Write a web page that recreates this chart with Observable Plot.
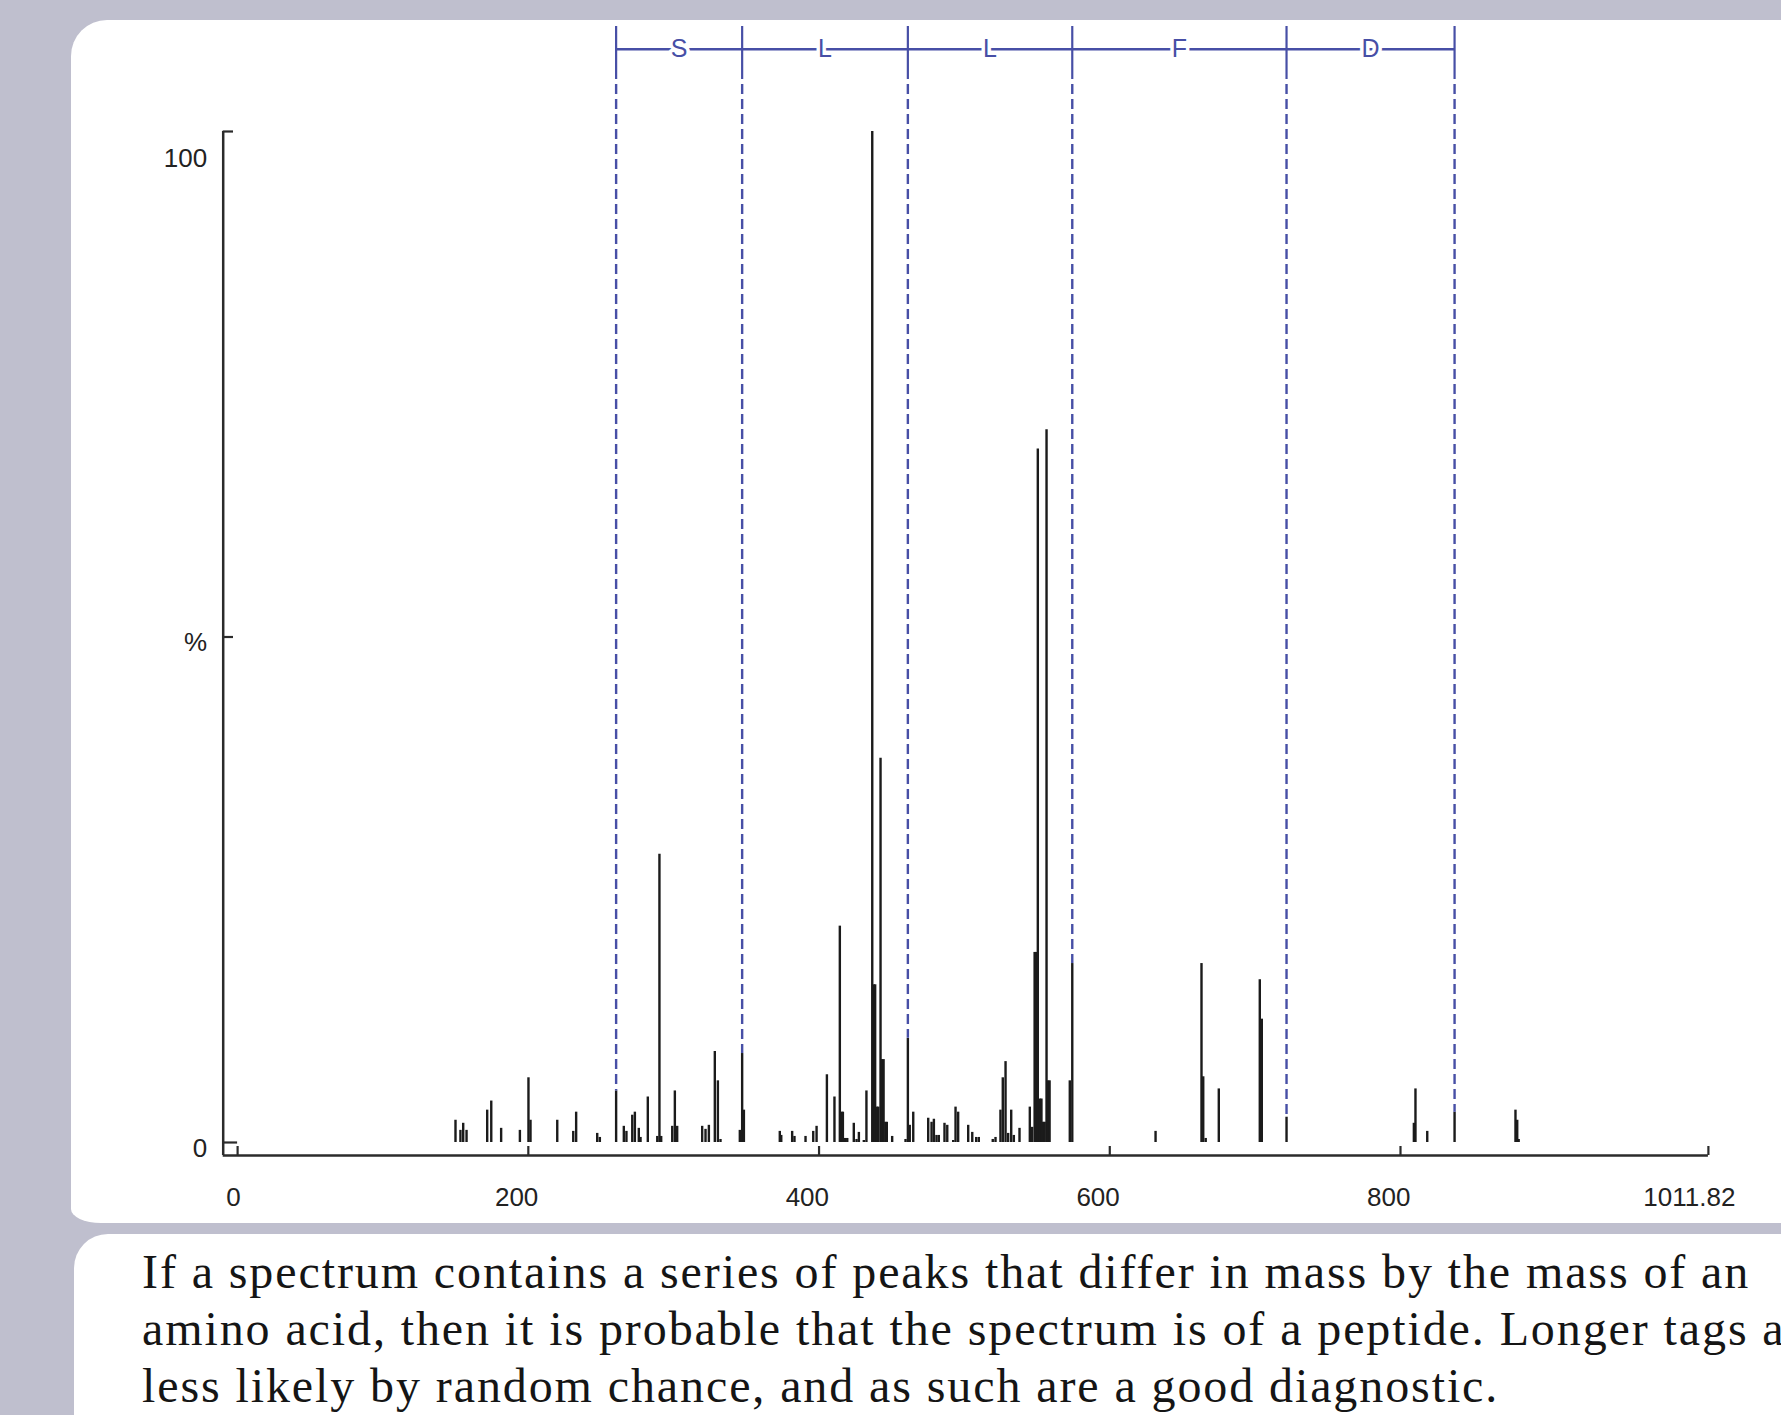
<!DOCTYPE html>
<html>
<head>
<meta charset="utf-8">
<script src="https://cdn.jsdelivr.net/npm/d3@7"></script>
<script src="https://cdn.jsdelivr.net/npm/@observablehq/plot@0.6"></script>
<style>
  html, body { margin: 0; padding: 0; }
  body { width: 1781px; height: 1415px; overflow: hidden; position: relative; background: #bfbfce; }
  #panel1 { position: absolute; left: 71px; top: 20px; width: 1800px; height: 1203px; background: #fff; border-radius: 36px 0 0 30px / 36px 0 0 14px; }
  #panel2 { position: absolute; left: 74px; top: 1234px; width: 1800px; height: 300px; background: #fff; border-radius: 34px 0 0 0; }
  #chart { position: absolute; left: 0; top: 0; }
  #chart svg { background: transparent; max-width: none; overflow: visible; }
  #caption { position: absolute; left: 142px; top: 1243px; font-family: "Liberation Serif", "DejaVu Serif", serif; font-size: 48px; letter-spacing: 1.9px; line-height: 57px; color: #151515; white-space: nowrap; }
</style>
</head>
<body>
<div id="panel1"></div>
<div id="panel2"></div>
<div id="chart"></div>
<div id="caption">If a spectrum contains a series of peaks that differ in mass by the mass of an<br>amino acid, then it is probable that the spectrum is of a peptide. Longer tags are<br>less likely by random chance, and as such are a good diagnostic.</div>
<script>
// ---- data (m/z, relative intensity %) ----
const peakMz = [
  149.9, 153.3, 155.2, 157.5, 171.7, 174.5, 181.3, 194.2, 200.1, 201.5,
  219.9, 230.9, 232.9, 247.4, 249.2, 260.4, 265.7, 267.5, 271.5, 273.3,
  276.0, 277.2, 282.2, 288.7, 290.2, 291.4, 299.0, 300.8, 302.4, 319.6,
  321.9, 324.2, 328.3, 330.4, 332.2, 345.5, 347.1, 348.3, 373.0, 374.0,
  381.5, 383.1, 390.7, 396.0, 398.3, 405.4, 410.6, 414.3, 415.4, 416.4,
  418.0, 419.4, 423.9, 425.8, 427.4, 430.8, 432.6, 436.6, 437.6, 438.6,
  439.8, 440.8, 442.3, 443.3, 444.4, 445.6, 446.6, 450.3, 459.5, 461.1,
  462.4, 464.8, 475.1, 477.4, 479.0, 480.8, 482.4, 486.3, 488.2, 492.3,
  493.9, 495.7, 502.6, 505.4, 508.1, 509.9, 519.5, 521.4, 524.8, 526.4,
  528.3, 530.1, 532.2, 534.0, 537.9, 545.0, 546.6, 548.3, 549.3, 550.5,
  552.0, 553.0, 554.2, 555.2, 556.5, 557.6, 558.6, 572.5, 574.2, 631.5,
  663.1, 664.3, 666.0, 675.0, 703.2, 704.6, 721.6, 809.2, 810.3, 818.4,
  837.2, 879.1, 880.3, 881.3
];
const peakIntensity = [
  2.2, 1.2, 1.9, 1.2, 3.2, 4.1, 1.4, 1.2, 6.4, 2.2,
  2.2, 1.1, 3.0, 0.9, 0.5, 5.1, 1.6, 1.1, 2.7, 3.0,
  1.4, 0.5, 4.5, 0.6, 28.5, 0.6, 1.6, 5.1, 1.6, 1.6,
  1.3, 1.7, 9.0, 6.1, 0.3, 1.2, 8.8, 3.2, 1.1, 0.7,
  1.1, 0.6, 0.6, 1.1, 1.6, 6.7, 4.5, 21.4, 3.0, 3.0,
  0.4, 0.4, 1.9, 0.3, 1.0, 0.2, 5.1, 100, 15.6, 15.6,
  3.5, 3.5, 38.0, 8.2, 8.2, 2.0, 2.0, 0.6, 0.3, 10.3,
  1.7, 3.0, 2.4, 2.0, 2.3, 0.7, 0.7, 1.9, 1.7, 0.2,
  3.5, 3.0, 1.7, 1.0, 0.5, 0.5, 0.3, 0.5, 3.2, 6.4,
  8.0, 0.9, 3.2, 0.7, 1.4, 3.5, 1.5, 18.8, 18.8, 68.6,
  4.3, 4.3, 2.0, 2.0, 70.5, 6.1, 6.1, 6.1, 17.7, 1.1,
  17.7, 6.5, 0.4, 5.3, 16.1, 12.2, 2.5, 1.9, 5.3, 1.1,
  3.0, 3.2, 2.2, 0.3
];
// sequence tag ladder
const tagMz = [260.4, 347.1, 461.1, 574.2, 721.6, 837.2];
const tagPeakIntensity = [5.1, 8.8, 10.3, 17.7, 2.5, 3.0];
const residues = ["S", "L", "L", "F", "D"];
// axes
const xTickValues = [0, 200, 400, 600, 800];
const xTickLabels = ["0", "200", "400", "600", "800"];
const xMax = 1011.82;
const xMaxLabel = "1011.82";
const yTickValues = [50, 0];
const yTickLabels = ["%", "0"];
const yTopValue = 100;
const yTopLabel = "100";

// ---- build tables ----
const peaks = peakMz.map((mz, i) => ({mz, intensity: peakIntensity[i]}));
const tags = tagMz.map((mz, i) => ({mz, intensity: tagPeakIntensity[i]}));
const residueLabels = residues.map((r, i) => ({residue: r, mid: (tagMz[i] + tagMz[i + 1]) / 2}));
const xTicks = xTickValues.map((v, i) => ({v, label: xTickLabels[i]}));
const yTicks = yTickValues.map((v, i) => ({v, label: yTickLabels[i]}));

// ---- layout ----
const W = 1781, H = 1230;
const mL = 237.1, mR = 73.1, mT = 131, mB = 88;
const xs = d3.scaleLinear().domain([0, xMax]).range([mL, W - mR]);
const ys = d3.scaleLinear().domain([0, 100]).range([H - mB, mT]);
const yAxisX = xs.invert(222.7);
const xAxisY = ys.invert(1155);
const xTickTop = ys.invert(1146);
const yTickRight = xs.invert(233);
const headerLineY = ys.invert(48.7);
const headerTop = ys.invert(26);
const headerBottom = ys.invert(79);

const blue = "#474fa6";
const ink = "#1b1b1b";
const axisInk = "#2b2b2b";
const font = "'Liberation Sans', Arial, sans-serif";

const chart = Plot.plot({
  width: W,
  height: H,
  marginLeft: mL, marginRight: mR, marginTop: mT, marginBottom: mB,
  x: {domain: [0, xMax], axis: null},
  y: {domain: [0, 100], axis: null},
  style: {background: "transparent", overflow: "visible"},
  marks: [
    // peaks
    Plot.ruleX(peaks, {x: "mz", y1: () => 0, y2: "intensity", stroke: ink, strokeWidth: 2.4}),
    // tag ladder: dashed drop lines to matched peaks
    Plot.ruleX(tags, {x: "mz", y1: () => headerBottom, y2: "intensity", stroke: blue, strokeWidth: 2.4, strokeDasharray: "10,5", strokeDashoffset: 10}),
    // solid header verticals
    Plot.ruleX(tags, {x: "mz", y1: () => headerBottom, y2: () => headerTop, stroke: blue, strokeWidth: 2.2}),
    // header horizontal
    Plot.ruleY([headerLineY], {x1: () => tagMz[0], x2: () => tagMz[tagMz.length - 1], stroke: blue, strokeWidth: 2.4}),
    // residue letters
    Plot.text(residueLabels, {x: "mid", y: () => headerLineY, text: "residue", fill: blue, stroke: "white", strokeWidth: 7, paintOrder: "stroke", fontSize: 25, fontFamily: font}),
    // axes lines
    Plot.ruleX([yAxisX], {y1: () => xAxisY, y2: () => yTopValue, stroke: axisInk, strokeWidth: 2.5}),
    Plot.ruleY([xAxisY], {x1: () => yAxisX, x2: () => xMax, stroke: axisInk, strokeWidth: 2.5}),
    // x ticks (pointing up)
    Plot.ruleX([...xTickValues, xMax], {y1: () => xAxisY, y2: () => xTickTop, stroke: axisInk, strokeWidth: 2.2}),
    // y ticks (pointing right)
    Plot.ruleY([yTopValue, 50], {x1: () => yAxisX, x2: () => yTickRight, stroke: axisInk, strokeWidth: 2.2}),
    Plot.ruleY([0], {x1: () => yAxisX, x2: () => 0, stroke: axisInk, strokeWidth: 2.2}),
    // x labels
    Plot.text(xTicks.filter(d => d.v !== 0), {x: "v", y: () => xAxisY, text: "label", textAnchor: "end", dx: 10, dy: 42, fontSize: 26, fontFamily: font, fill: "#222"}),
    Plot.text(xTicks.filter(d => d.v === 0), {x: "v", y: () => xAxisY, text: "label", textAnchor: "end", dx: 3, dy: 42, fontSize: 26, fontFamily: font, fill: "#222"}),
    Plot.text([xMax], {x: d => d, y: () => xAxisY, text: () => xMaxLabel, textAnchor: "end", dx: 27, dy: 42, fontSize: 26, fontFamily: font, fill: "#222"}),
    // y labels
    Plot.text(yTicks, {x: () => yAxisX, y: "v", text: "label", textAnchor: "end", dx: -16, dy: 6, fontSize: 26, fontFamily: font, fill: "#222"}),
    Plot.text([yTopValue], {x: () => yAxisX, y: d => d, text: () => yTopLabel, textAnchor: "end", dx: -16, dy: 27, fontSize: 26, fontFamily: font, fill: "#222"})
  ]
});
document.getElementById("chart").appendChild(chart);
</script>
</body>
</html>
